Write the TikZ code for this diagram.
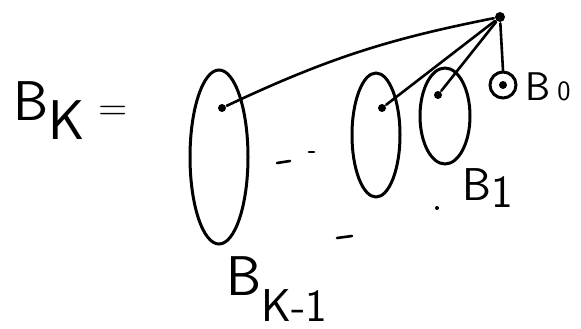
\documentclass[tikz,border=0pt]{standalone}
\usetikzlibrary{shapes.geometric}
\tikzset{
  dot/.style={circle, fill, inner sep=0pt, minimum size=8pt},
  subtree/.style={ellipse, draw, inner sep=0pt, line width=3pt},
  hand/.style={font=\sffamily\fontsize{56}{56}\selectfont, inner sep=0pt, anchor=base west},
}
\begin{document}
\begin{tikzpicture}[x=1pt, y=-1pt, line width=2.6pt, line cap=round]
  \useasboundingbox (0,0) rectangle (581,329);
  % left side
  \node[hand] (lhs) at (12,120) {B\raisebox{-20pt}{K}\hspace{14pt}{\fontsize{40}{40}\selectfont =}};
  % root of B_K
  \node[dot, minimum size=10pt] (root) at (500,17) {};
  % subtree B_{K-1}
  \node[subtree, minimum width=58pt, minimum height=174pt] (tk1) at (219,157) {};
  \node[dot] (dk1) at (222,108) {};
  % subtree B_2 (unlabelled)
  \node[subtree, minimum width=48pt, minimum height=124pt] (t2) at (376,135) {};
  \node[dot] (d2) at (382,108) {};
  % subtree B_1
  \node[subtree, minimum width=50pt, minimum height=96pt] (t1) at (445,116) {};
  \node[dot] (d1) at (438,95) {};
  % subtree B_0
  \node[subtree, circle, minimum size=26pt] (t0) at (503,85) {};
  \node[dot] (d0) at (503,85) {};
  % links from the root
  \draw (root) to[bend right=7] (dk1);
  \draw (root) -- (d2);
  \draw (root) -- (d1);
  \draw (root) -- (t0.north);
  % dots between the subtrees
  \draw (277,163) -- (290,161);
  \draw (309,152) -- (314,152);
  \draw (337,238) -- (352,236);
  \fill (437,208) circle (2pt);
  % labels
  \node[hand] (lk1) at (225,295) {B\raisebox{-26pt}{\fontsize{46}{46}\selectfont K-1}};
  \node[hand, font=\sffamily\fontsize{46}{46}\selectfont] (l1) at (461,200) {B\raisebox{-7pt}{1}};
  \node[hand, font=\sffamily\fontsize{40}{40}\selectfont] (l0) at (524,100) {B\hspace{7pt}{\fontsize{28}{28}\selectfont 0}};
\end{tikzpicture}
\end{document}
